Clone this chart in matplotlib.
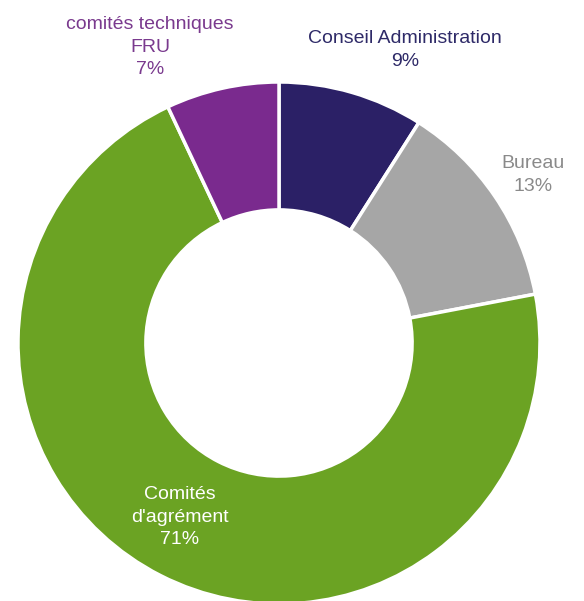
import matplotlib
matplotlib.use("Agg")
import matplotlib.pyplot as plt

labels = ["Conseil Administration", "Bureau", "Comités\nd'agrément", "comités techniques\nFRU"]
values = [9, 13, 71, 7]
colors = ["#2b2066", "#a6a6a6", "#6ba323", "#7a2a8e"]
text_colors = ["#2e2a68", "#8a8a8a", "#ffffff", "#7a3a8e"]
label_pos = [(405, 50), (533, 175), (180, 517), (150, 47)]

plt.rcParams['font.family'] = ['Liberation Sans', 'DejaVu Sans']
fig = plt.figure(figsize=(5.84, 6.01), dpi=100)
ax = fig.add_axes([0, 0, 1, 1])

cx, cy, r = 279, 601 - 343, 261
ax.pie(values, colors=colors, startangle=90, counterclock=False,
       center=(cx, cy), radius=r, frame=True,
       wedgeprops=dict(width=r * 0.49, edgecolor='white', linewidth=2.5))
ax.set_xlim(0, 584)
ax.set_ylim(0, 601)
ax.set_aspect('equal')
ax.axis('off')

for lab, v, (x, y), tc in zip(labels, values, label_pos, text_colors):
    ax.text(x, 601 - y, f"{lab}\n{v}%", ha='center', va='center', color=tc,
            fontsize=14, linespacing=1.4)

fig.savefig("out.png", dpi=100)
